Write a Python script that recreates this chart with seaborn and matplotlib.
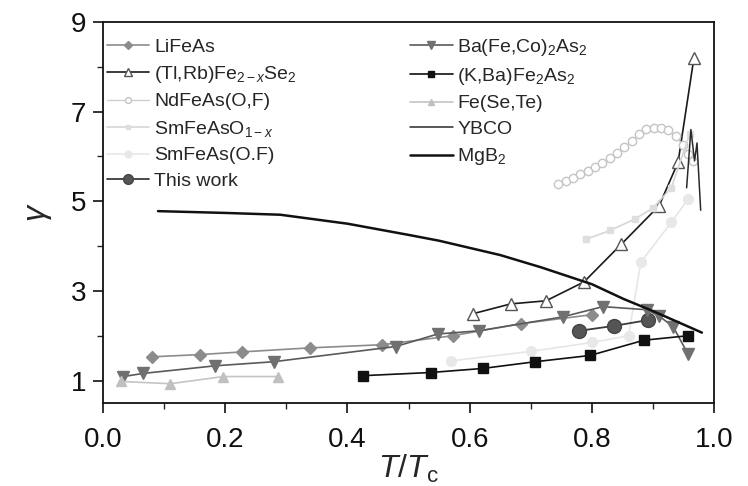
import matplotlib
matplotlib.use("Agg")
import matplotlib.pyplot as plt
import seaborn as sns
import numpy as np

# reduced temperature T/Tc and anisotropy gamma for each compound
lifeas_t = [0.08, 0.159, 0.228, 0.339, 0.457, 0.572, 0.684, 0.80]
lifeas_g = [1.53, 1.58, 1.64, 1.73, 1.80, 2.00, 2.27, 2.47]

tlrb_t = [0.605, 0.667, 0.725, 0.787, 0.848, 0.91, 0.941, 0.967]
tlrb_g = [2.49, 2.71, 2.78, 3.20, 4.04, 4.90, 5.87, 8.20]

ndfeas_t = [0.745, 0.757, 0.769, 0.781, 0.793, 0.805, 0.817, 0.829, 0.841, 0.853,
            0.865, 0.877, 0.889, 0.901, 0.913, 0.925, 0.937, 0.949, 0.958, 0.966]
ndfeas_g = [5.38, 5.45, 5.52, 5.60, 5.68, 5.77, 5.86, 5.96, 6.07, 6.20,
            6.35, 6.50, 6.62, 6.64, 6.64, 6.60, 6.45, 6.25, 6.05, 5.90]

smo_t = [0.79, 0.83, 0.87, 0.90, 0.93, 0.96]
smo_g = [4.15, 4.35, 4.60, 4.85, 5.30, 6.50]

smof_t = [0.57, 0.70, 0.80, 0.86, 0.88, 0.93, 0.957]
smof_g = [1.44, 1.65, 1.85, 2.00, 3.64, 4.53, 5.04]

thiswork_t = [0.779, 0.836, 0.892]
thiswork_g = [2.11, 2.22, 2.35]

bafeco_t = [0.033, 0.066, 0.184, 0.279, 0.479, 0.548, 0.615, 0.752, 0.818, 0.89, 0.91, 0.933, 0.957]
bafeco_g = [1.09, 1.16, 1.33, 1.42, 1.76, 2.04, 2.11, 2.42, 2.65, 2.58, 2.44, 2.20, 1.60]

kba_t = [0.426, 0.536, 0.621, 0.707, 0.797, 0.885, 0.957]
kba_g = [1.11, 1.18, 1.27, 1.42, 1.56, 1.90, 2.00]

fesete_t = [0.03, 0.11, 0.197, 0.287]
fesete_g = [0.98, 0.93, 1.09, 1.09]

ybco_t = [0.955, 0.962, 0.968, 0.972, 0.978]
ybco_g = [5.30, 6.60, 5.90, 6.30, 4.80]

mgb2_t = [0.09, 0.20, 0.29, 0.40, 0.50, 0.55, 0.65, 0.716, 0.80, 0.852, 0.90, 0.95, 0.98]
mgb2_g = [4.78, 4.74, 4.70, 4.50, 4.25, 4.12, 3.80, 3.53, 3.15, 2.82, 2.55, 2.25, 2.07]

x_ticks = [0.0, 0.2, 0.4, 0.6, 0.8, 1.0]
x_ticklabels = ["0.0", "0.2", "0.4", "0.6", "0.8", "1.0"]
y_ticks = [1, 3, 5, 7, 9]

sns.set_style("ticks")
plt.rcParams["font.family"] = ["Liberation Sans", "DejaVu Sans"]
plt.rcParams["mathtext.fontset"] = "custom"
plt.rcParams["mathtext.rm"] = "Liberation Sans"
plt.rcParams["mathtext.it"] = "Liberation Sans:italic"

fig = plt.figure(figsize=(7.48, 4.86), dpi=100)
ax = fig.add_axes([0.1377, 0.1708, 0.817, 0.784])

series = [
    (lifeas_t, lifeas_g, "LiFeAs",
     dict(color="#8c8c8c", marker="D", ms=6, mfc="#8c8c8c", mec="#8c8c8c", lw=1.2)),
    (tlrb_t, tlrb_g, "(Tl,Rb)Fe$_{2\u2212x}$Se$_2$",
     dict(color="#1a1a1a", marker="^", ms=8, mfc="white", mec="#555555", lw=1.2)),
    (ndfeas_t, ndfeas_g, "NdFeAs(O,F)",
     dict(color="#d0d0d0", marker="o", ms=6, mfc="white", mec="#c4c4c4", lw=1.0)),
    (smo_t, smo_g, "SmFeAsO$_{1\u2212x}$",
     dict(color="#d6d6d6", marker="s", ms=4, mfc="#dedede", mec="#dedede", lw=1.2)),
    (smof_t, smof_g, "SmFeAs(O.F)",
     dict(color="#e6e6e6", marker="o", ms=7, mfc="#e8e8e8", mec="#e8e8e8", lw=1.2)),
    (thiswork_t, thiswork_g, "This work",
     dict(color="#3a3a3a", marker="o", ms=10, mfc="#555555", mec="#444444", lw=1.3)),
    (bafeco_t, bafeco_g, "Ba(Fe,Co)$_2$As$_2$",
     dict(color="#5a5a5a", marker="v", ms=8, mfc="#707070", mec="#707070", lw=1.2)),
    (kba_t, kba_g, "(K,Ba)Fe$_2$As$_2$",
     dict(color="#111111", marker="s", ms=7, mfc="#111111", mec="#111111", lw=1.2)),
    (fesete_t, fesete_g, "Fe(Se,Te)",
     dict(color="#c4c4c4", marker="^", ms=7, mfc="#c0c0c0", mec="#c0c0c0", lw=1.2)),
    (ybco_t, ybco_g, "YBCO",
     dict(color="#2a2a2a", marker=None, lw=1.1)),
    (mgb2_t, mgb2_g, "MgB$_2$",
     dict(color="#111111", marker=None, lw=1.8)),
]

for t, g, label, st in series:
    kw = dict(color=st["color"], lw=st["lw"])
    if st.get("marker"):
        kw.update(marker=st["marker"], markersize=st["ms"],
                  markerfacecolor=st["mfc"], markeredgecolor=st["mec"],
                  markeredgewidth=1.0)
    sns.lineplot(x=t, y=g, ax=ax, label=label, sort=False, estimator=None, **kw)

ax.set_xlim(0.0, 1.0)
ax.set_ylim(0.5, 9.0)
ax.set_xticks(x_ticks)
ax.set_xticklabels(x_ticklabels)
ax.set_xticks(np.arange(0.1, 1.0, 0.2), minor=True)
ax.set_yticks(y_ticks)
ax.set_yticks([2, 4, 6, 8], minor=True)
ax.tick_params(axis="both", which="major", direction="out", length=7, width=1.2,
               labelsize=20, colors="#111111")
ax.tick_params(axis="x", which="major", pad=10)
ax.tick_params(axis="y", which="major", pad=5)
ax.tick_params(axis="both", which="minor", direction="out", length=4, width=1.0)
for s in ax.spines.values():
    s.set_linewidth(1.3)
    s.set_color("#111111")
    s.set_visible(True)

ax.set_xlabel("$T$/$T$$_\\mathrm{c}$", fontsize=23, labelpad=0)
ax.set_ylabel("$\\gamma$", fontsize=23, labelpad=12)

leg = ax.legend(loc="upper left", ncol=2, frameon=False, fontsize=14,
                handlelength=2.2, handletextpad=0.25, labelspacing=0.42,
                columnspacing=5.8, borderaxespad=0.0, borderpad=0.75,
                markerscale=0.7, bbox_to_anchor=(-0.018, 1.0))

fig.savefig("out.png", dpi=100, facecolor="white")
